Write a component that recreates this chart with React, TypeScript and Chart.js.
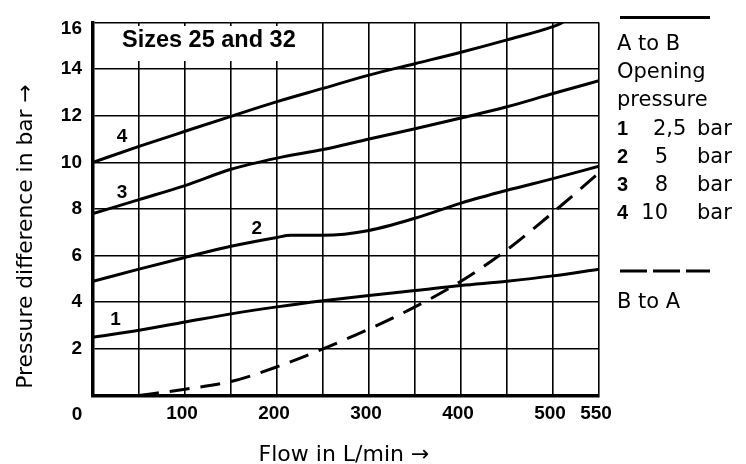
import { useEffect, useRef } from 'react';
import { Chart, registerables } from 'chart.js';

Chart.register(...registerables);

// ---- data ----
const flowTicks = [0, 50, 100, 150, 200, 250, 300, 350, 400, 450, 500, 550];
const flowTickLabels = ['0', '', '100', '', '200', '', '300', '', '400', '', '500', '550'];
const pressureTicks = [0, 2, 4, 6, 8, 10, 12, 14, 16];
const pressureTickLabels = ['0', '2', '4', '6', '8', '10', '12', '14', '16'];

const curve1Flow = [0, 50, 100, 150, 200, 250, 300, 350, 400, 450, 500, 550];
const curve1Pressure = [2.5, 2.8, 3.15, 3.5, 3.8, 4.06, 4.29, 4.5, 4.72, 4.9, 5.13, 5.42];

const curve2Flow = [0, 50, 100, 150, 200, 215, 250, 300, 350, 400, 450, 500, 550];
const curve2Pressure = [4.9, 5.42, 5.92, 6.4, 6.78, 6.87, 6.87, 7.08, 7.6, 8.25, 8.8, 9.3, 9.83];

const curve3Flow = [0, 50, 100, 150, 200, 250, 300, 350, 400, 450, 500, 550];
const curve3Pressure = [7.8, 8.4, 9.0, 9.7, 10.18, 10.55, 11.0, 11.44, 11.9, 12.38, 12.95, 13.5];

const curve4Flow = [0, 50, 100, 150, 200, 250, 300, 350, 400, 450, 500, 511];
const curve4Pressure = [10, 10.68, 11.33, 11.97, 12.6, 13.17, 13.74, 14.23, 14.72, 15.25, 15.82, 16];

const reverseFlow = [50, 100, 150, 200, 250, 300, 350, 400, 450, 500, 550];
const reversePressure = [0, 0.27, 0.6, 1.23, 2.0, 2.85, 3.8, 4.9, 6.25, 7.85, 9.55];

const curveLabels = ['1', '2', '3', '4'];
const curveLabelFlow = [24.5, 178, 31.5, 31.5];
const curveLabelPressure = [3.25, 7.16, 8.68, 11.08];

const openingNumbers = ['1', '2', '3', '4'];
const openingValues = ['2,5', '5', '8', '10'];
const openingUnit = 'bar';

const chartTitle = 'Sizes 25 and 32';
const xTitle = 'Flow in L/min \u2192';
const yTitle = 'Pressure difference in bar \u2192';
const legendSolidText = ['A to B', 'Opening', 'pressure'];
const legendDashedText = 'B to A';

const FONT = '"Liberation Sans", Arial, Helvetica, sans-serif';
const TEXT_FONT = '"DejaVu Sans", "Liberation Sans", Arial, sans-serif';

const toPoints = (xs: number[], ys: number[]) => xs.map((x, i) => ({ x, y: ys[i] }));

export default function App() {
  const ref = useRef<HTMLCanvasElement>(null);

  useEffect(() => {
    const canvas = ref.current;
    if (!canvas) return;

    const overlay = {
      id: 'overlay',
      beforeDatasetsDraw(chart: any) {
        const ctx = chart.ctx as CanvasRenderingContext2D;
        const { left } = chart.chartArea;
        ctx.save();
        ctx.fillStyle = '#fff';
        ctx.fillRect(left + 2, 26, 210, 35);
        ctx.fillStyle = '#000';
        ctx.font = `bold 23.5px ${FONT}`;
        ctx.textAlign = 'left';
        ctx.textBaseline = 'alphabetic';
        ctx.fillText(chartTitle, left + 29, 46.5);
        ctx.restore();
      },
      afterDraw(chart: any) {
        const ctx = chart.ctx as CanvasRenderingContext2D;
        const { left, right, top, bottom } = chart.chartArea;
        const xs = chart.scales.x;
        const ys = chart.scales.y;
        ctx.save();
        ctx.fillStyle = '#000';
        ctx.strokeStyle = '#000';

        // corner tick labels
        ctx.font = `bold 19px ${FONT}`;
        ctx.textAlign = 'center';
        ctx.textBaseline = 'alphabetic';
        ctx.fillText(flowTickLabels[0], left - 16, bottom + 24.5);
        ctx.textAlign = 'right';
        ctx.fillText(pressureTickLabels[pressureTickLabels.length - 1], left - 11, top + 12);

        // curve labels
        ctx.textAlign = 'center';
        ctx.textBaseline = 'middle';
        curveLabels.forEach((t, i) => {
          ctx.fillText(t, xs.getPixelForValue(curveLabelFlow[i]), ys.getPixelForValue(curveLabelPressure[i]));
        });

        // axis titles
        ctx.textBaseline = 'alphabetic';
        ctx.textAlign = 'center';
        ctx.font = `22px ${TEXT_FONT}`;
        ctx.fillText(xTitle, (left + right) / 2 - 2, 461);
        ctx.save();
        ctx.translate(31.5, 236.5);
        ctx.rotate(-Math.PI / 2);
        ctx.font = `21.8px ${TEXT_FONT}`;
        ctx.fillText(yTitle, 0, 0);
        ctx.restore();

        // legend
        const lx = right + 18;
        ctx.lineWidth = 3;
        ctx.beginPath();
        ctx.moveTo(lx + 3, 17.5);
        ctx.lineTo(lx + 93, 17.5);
        ctx.stroke();

        ctx.font = `21px ${TEXT_FONT}`;
        ctx.textAlign = 'left';
        const lineBase = [50, 78, 106];
        legendSolidText.forEach((t, i) => ctx.fillText(t, lx, lineBase[i]));
        const rowBase = [134.5, 162.5, 191, 219];
        openingNumbers.forEach((n, i) => {
          ctx.font = `bold 20px ${FONT}`;
          ctx.textAlign = 'left';
          ctx.fillText(n, lx, rowBase[i]);
          ctx.font = `21px ${TEXT_FONT}`;
          const v = openingValues[i];
          if (v.includes(',')) {
            ctx.textAlign = 'left';
            ctx.fillText(v, lx + 36, rowBase[i]);
          } else {
            ctx.textAlign = 'right';
            ctx.fillText(v, lx + 51, rowBase[i]);
          }
          ctx.textAlign = 'left';
          ctx.fillText(openingUnit, lx + 80, rowBase[i]);
        });

        ctx.setLineDash([27, 6]);
        ctx.beginPath();
        ctx.moveTo(lx + 3, 271);
        ctx.lineTo(lx + 93, 271);
        ctx.stroke();
        ctx.setLineDash([]);
        ctx.textAlign = 'left';
        ctx.fillText(legendDashedText, lx, 308);
        ctx.restore();
      },
    };

    const line = (xs: number[], ys: number[], dash?: number[]) => ({
      data: toPoints(xs, ys),
      borderColor: '#000',
      backgroundColor: '#000',
      borderWidth: 3,
      pointRadius: 0,
      fill: false,
      cubicInterpolationMode: 'monotone' as const,
      borderDash: dash || [],
      borderCapStyle: 'butt' as const,
    });

    const tickFont = { family: FONT, size: 19, weight: 'bold' as const };

    const chart = new Chart(canvas, {
      type: 'line',
      data: {
        datasets: [
          line(curve1Flow, curve1Pressure),
          line(curve2Flow, curve2Pressure),
          line(curve3Flow, curve3Pressure),
          line(curve4Flow, curve4Pressure),
          line(reverseFlow, reversePressure, [20, 11]),
        ],
      },
      options: {
        animation: false,
        responsive: false,
        events: [],
        layout: { padding: { left: 0, top: 18, right: 147, bottom: 0 } },
        plugins: { legend: { display: false }, tooltip: { enabled: false }, title: { display: false } },
        scales: {
          x: {
            type: 'linear',
            min: 0,
            max: 550,
            afterBuildTicks: (s: any) => {
              s.ticks = flowTicks.map((v) => ({ value: v }));
            },
            afterFit: (s: any) => {
              s.height = 68.5;
            },
            grid: { color: '#000', lineWidth: 1.6, drawTicks: false },
            border: { color: '#000', width: 3.5 },
            ticks: {
              autoSkip: false,
              maxRotation: 0,
              padding: 7,
              labelOffset: -3,
              color: '#000',
              font: tickFont,
              callback: (_v: any, i: number) => (i === 0 ? '' : flowTickLabels[i]),
            },
          },
          y: {
            type: 'linear',
            min: 0,
            max: 16,
            afterBuildTicks: (s: any) => {
              s.ticks = pressureTicks.map((v) => ({ value: v }));
            },
            afterFit: (s: any) => {
              s.width = 93;
            },
            grid: { color: '#000', lineWidth: 1.6, drawTicks: false },
            border: { color: '#000', width: 3.5 },
            ticks: {
              autoSkip: false,
              padding: 11,
              color: '#000',
              font: tickFont,
              callback: (_v: any, i: number) =>
                i === 0 || i === pressureTickLabels.length - 1 ? '' : pressureTickLabels[i],
            },
          },
        },
      },
      plugins: [overlay],
    });

    return () => chart.destroy();
  }, []);

  return (
    <div style={{ position: 'fixed', left: 0, top: 0, width: 746, height: 464, background: '#fff' }}>
      <canvas ref={ref} width={746} height={464} style={{ width: 746, height: 464, display: 'block' }} />
    </div>
  );
}
